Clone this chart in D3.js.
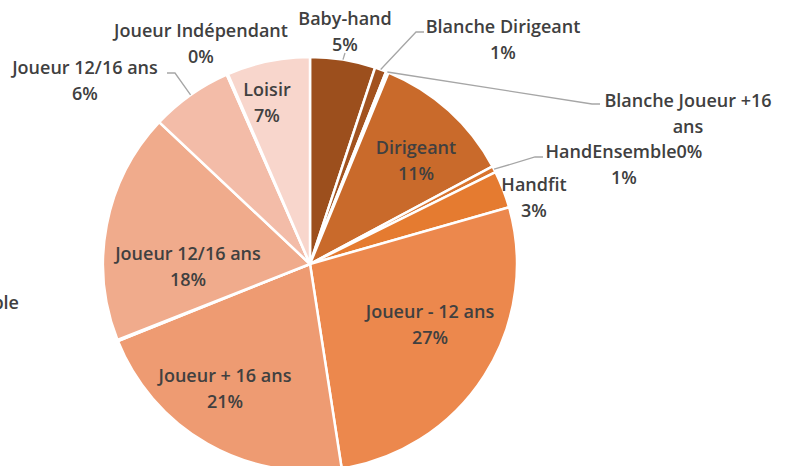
<!DOCTYPE html>
<html>
<head>
<meta charset="utf-8">
<script src="https://cdn.jsdelivr.net/npm/d3@7"></script>
<style>
  body { margin: 0; background: #fff; }
  text { font-family: "Open Sans", sans-serif; font-weight: 600; fill: #404040; }
</style>
</head>
<body>
<div id="pie_chart_wrapper"></div>
<script>
// categories and shares (percent), clockwise from 12 o'clock
const categories = ["Baby-hand", "Blanche Dirigeant", "Blanche Joueur +16 ans", "Dirigeant",
  "HandEnsemble", "Handfit", "Joueur - 12 ans", "Joueur + 16 ans", "HandEnsemble Disponible",
  "Joueur 12/16 ans", "Joueur 12/16 ans ", "Joueur Indépendant", "Loisir"];
const values = [5.1, 0.9, 0.2, 11.0, 0.5, 2.9, 27.0, 21.4, 0.1, 18.0, 6.4, 0.1, 6.5];
const pctLabels = ["5%", "1%", "0%", "11%", "1%", "3%", "27%", "21%", "0%", "18%", "6%", "0%", "7%"];
const colors = ["#9c4f1d", "#a2521f", "#b75d24", "#c96a2b", "#d8732d", "#e57b30",
  "#ec884d", "#ee9b72", "#efa47f", "#f0ab8c", "#f3bca8", "#f5c8b8", "#f8d6cc"];

const W = 787, H = 466;
const cx = 310, cy = 264, radius = 207;

const svg = d3.select('#pie_chart_wrapper').append('svg')
  .attr('width', W).attr('height', H);
const g = svg.append('g').attr('transform', `translate(${cx}, ${cy})`);

const pie = d3.pie().sort(null).value(d => d[1]);
const data_ready = pie(categories.map((c, i) => [c, values[i], i]));
const arcGen = d3.arc().innerRadius(0).outerRadius(radius);

g.selectAll('path.slice')
  .data(data_ready)
  .join('path')
  .attr('class', 'slice')
  .attr('d', arcGen)
  .attr('fill', d => colors[d.data[2]])
  .attr('stroke', '#fff')
  .style('stroke-width', '2.5px');

// label layout: [index, x, y(first line), lines, leader points or null]
const labelLayout = [
  [0, 345, 25, ["Baby-hand", "5%"], [[0, "edge"], [345, 53]]],
  [1, 503, 33, ["Blanche Dirigeant", "1%"], [[1, "edge"], [416, 32], [424, 32]]],
  [2, 688, 107, ["Blanche Joueur +16", "ans"], [[2, "edge"], [592, 104], [600, 104]]],
  [3, 416, 154, ["Dirigeant", "11%"], null],
  [4, 624, 158, ["HandEnsemble0%", "1%"], [[4, "edge"], [535, 157], [543, 157]]],
  [5, 534, 191, ["Handfit", "3%"], null],
  [6, 430, 318, ["Joueur - 12 ans", "27%"], null],
  [7, 225, 382, ["Joueur + 16 ans", "21%"], null],
  [8, 19, 309, ["HandEnsemble"], null, "end"],
  [9, 188, 260, ["Joueur 12/16 ans", "18%"], null],
  [10, 85, 74, ["Joueur 12/16 ans", "6%"], [[10, "edge"], [175, 73], [167, 73]]],
  [11, 201, 37, ["Joueur Indépendant", "0%"], null],
  [12, 267, 96, ["Loisir", "7%"], null]
];

function edgePoint(i) {
  const d = data_ready[i];
  const mid = (d.startAngle + d.endAngle) / 2;
  return [cx + Math.sin(mid) * radius, cy - Math.cos(mid) * radius];
}

labelLayout.forEach(l => {
  if (l[4]) {
    const pts = l[4].map(p => p[1] === "edge" ? edgePoint(p[0]) : p);
    svg.append('path')
      .attr('d', d3.line()(pts))
      .attr('fill', 'none')
      .attr('stroke', '#a6a6a6')
      .attr('stroke-width', 1.3);
  }
  const t = svg.append('text')
    .attr('x', l[1]).attr('y', l[2])
    .attr('text-anchor', l[5] || 'middle')
    .style('font-size', '18px');
  l[3].forEach((s, j) => {
    t.append('tspan').attr('x', l[1]).attr('dy', j === 0 ? 0 : 26).text(s);
  });
});
</script>
</body>
</html>
